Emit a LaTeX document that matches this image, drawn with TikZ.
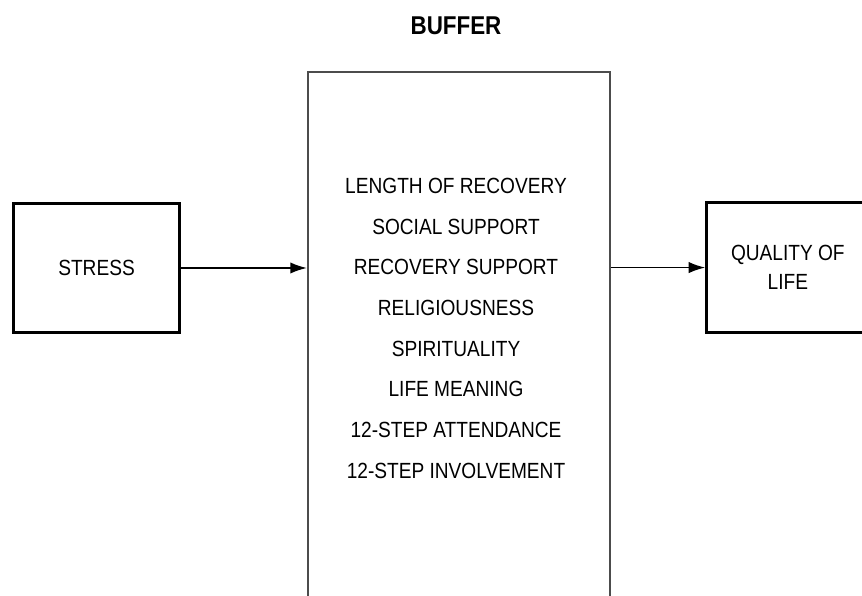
\documentclass[tikz,border=0pt]{standalone}
\usepackage{fontspec}
\setmainfont[FakeStretch=0.87]{Liberation Sans}
\usepackage{tikz}
\usetikzlibrary{arrows.meta, positioning, calc}

\begin{document}
\begin{tikzpicture}[font=\fontsize{14.5}{17}\selectfont,
    box/.style={draw=black, line width=2pt, minimum width=3.87cm, minimum height=3.0cm, align=center},
    arr/.style={-{Latex[length=11pt,width=7.5pt]}, line width=1.2pt}]
  \useasboundingbox (0,0) rectangle (20,13.828);
  % left and right boxes
  \node[box] (stress) at (2.24,7.61) {STRESS};
  \node[box, minimum width=3.76cm, font=\fontsize{14.5}{19.5}\selectfont] (quality) at (18.28,7.62) {QUALITY OF\\LIFE};
  % the buffer box runs off the bottom of the page
  \node[draw=black!70, line width=1.6pt, minimum width=7.0cm, minimum height=13.2cm] (buffer) at (10.65,5.56) {};
  \node[font=\fontsize{17}{20}\selectfont\bfseries] (title) at (10.58,13.24) {BUFFER};
  \foreach \txt [count=\i from 0] in {LENGTH OF RECOVERY, SOCIAL SUPPORT, RECOVERY SUPPORT,
      RELIGIOUSNESS, SPIRITUALITY, LIFE MEANING, 12-STEP ATTENDANCE, 12-STEP INVOLVEMENT} {
    \node (f\i) at (10.58,{9.513-0.944*\i}) {\txt};
  }
  \draw[arr] (stress.east) -- (stress.east -| buffer.west);
  \draw[arr] (quality.west -| buffer.east) -- (quality.west);
\end{tikzpicture}
\end{document}
